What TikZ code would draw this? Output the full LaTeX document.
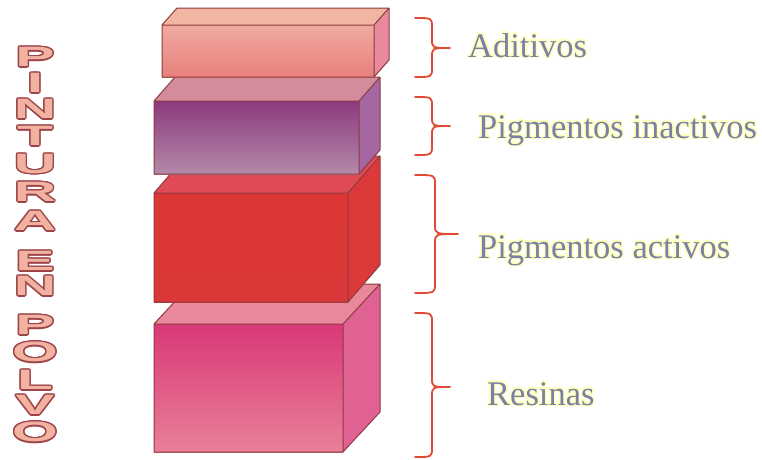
\documentclass[tikz,border=0pt]{standalone}
\usepackage{fontspec}
\usepackage{graphicx}
\setmainfont{Liberation Serif}
\newfontfamily\wafont{Liberation Sans}
\usetikzlibrary{calc}
\definecolor{edge}{HTML}{8E3A40}
\definecolor{b1a}{HTML}{EFAAA0}\definecolor{b1b}{HTML}{E8807C}\definecolor{b1t}{HTML}{F0B6A2}\definecolor{b1s}{HTML}{E88A9C}
\definecolor{b2a}{HTML}{8C3A7E}\definecolor{b2b}{HTML}{B38AA8}\definecolor{b2t}{HTML}{D48C9C}\definecolor{b2s}{HTML}{A467A2}
\definecolor{b3a}{HTML}{DC3636}\definecolor{b3b}{HTML}{DA3838}\definecolor{b3t}{HTML}{E04B55}\definecolor{b3s}{HTML}{DC3A3A}
\definecolor{b4a}{HTML}{D93878}\definecolor{b4b}{HTML}{E98098}\definecolor{b4t}{HTML}{E8889A}\definecolor{b4s}{HTML}{E06292}
\definecolor{bracec}{HTML}{E04A32}
\definecolor{lblc}{HTML}{7A80A6}
\definecolor{glow}{HTML}{FFFFC0}
\definecolor{wlf}{HTML}{F2B2A2}
\definecolor{wlo}{HTML}{9E4448}
\tikzset{
  edgeline/.style={draw=edge, line width=1pt, line join=round},
  bracepath/.style={draw=bracec, line width=1.8pt, line cap=round, line join=round},
  lbl/.style={anchor=base west, inner sep=0pt, text=lblc, font=\fontsize{34.5}{40}\selectfont},
  wl/.style={anchor=center, inner sep=0pt, font=\wafont\bfseries\fontsize{28}{28}\selectfont},
}
% x1 y1 x2 y2 dx dy(positive up) prefix
\newcommand\cuboid[7]{%
  \fill[#7t] (#1,#2) -- (#1+#5,#2-#6) -- (#3+#5,#2-#6) -- (#3,#2) -- cycle;
  \fill[#7s] (#3,#2) -- (#3+#5,#2-#6) -- (#3+#5,#4-#6) -- (#3,#4) -- cycle;
  \shade[top color=#7a, bottom color=#7b] (#1,#2) rectangle (#3,#4);
  \draw[edgeline] (#1,#2) rectangle (#3,#4)
     (#1,#2) -- (#1+#5,#2-#6) -- (#3+#5,#2-#6) -- (#3,#2)
     (#3+#5,#2-#6) -- (#3+#5,#4-#6) -- (#3,#4);
}
% top bottom tipy vx tipx
\newcommand\curlybr[5]{%
  \draw[bracepath] (415,#1) .. controls (#4,#1) .. (#4,#1+9) -- (#4,#3-9)
    .. controls (#4,#3) .. (#5,#3) .. controls (#4,#3) .. (#4,#3+9)
    -- (#4,#2-9) .. controls (#4,#2) .. (415,#2);
}
\newcommand\glowlabel[4]{%
  \foreach \a in {0,30,...,330} \node[lbl,text=glow] at ([shift={(\a:1.6)}]#2,#3) {#4};
  \node[lbl] (#1) at (#2,#3) {#4};
}
\newcommand\wletter[3]{%
  \foreach \a in {0,30,...,330} \node[wl,text=wlo] at ([shift={(\a:1.4)}]35,#2) {\scalebox{2.1}[1]{#3}};
  \node[wl,text=wlf] (#1) at (35,#2) {\scalebox{2.1}[1]{#3}};
}
\begin{document}
\begin{tikzpicture}[x=1pt,y=-1pt]
\fill[white] (0,0) rectangle (762,459);
\useasboundingbox (0,0) rectangle (762,459);
% boxes, bottom first
\cuboid{154}{324}{343}{452}{37}{40}{b4}
\cuboid{154}{193}{348}{302}{32}{37}{b3}
\cuboid{154}{101}{359}{174}{21}{24}{b2}
\cuboid{162}{25}{374}{77}{15}{17}{b1}
% braces
\curlybr{18}{77}{48}{432}{450}
\curlybr{97}{155}{126}{432}{450}
\curlybr{175}{293}{234}{435}{458}
\curlybr{313}{457}{387}{432}{450}
% labels
\glowlabel{ad}{468}{57}{Aditivos}
\glowlabel{pi}{478}{138}{Pigmentos inactivos}
\glowlabel{pa}{478}{258}{Pigmentos activos}
\glowlabel{re}{487}{405}{Resinas}
% vertical word art
\wletter{l1}{57}{P}
\wletter{l2}{83}{I}
\wletter{l3}{109}{N}
\wletter{l4}{136}{T}
\wletter{l5}{164}{U}
\wletter{l6}{192}{R}
\wletter{l7}{221}{A}
\wletter{l8}{261}{E}
\wletter{l9}{286}{N}
\wletter{l10}{325}{P}
\wletter{l11}{352}{O}
\wletter{l12}{380}{L}
\wletter{l13}{405}{V}
\wletter{l14}{432}{O}
\end{tikzpicture}
\end{document}
